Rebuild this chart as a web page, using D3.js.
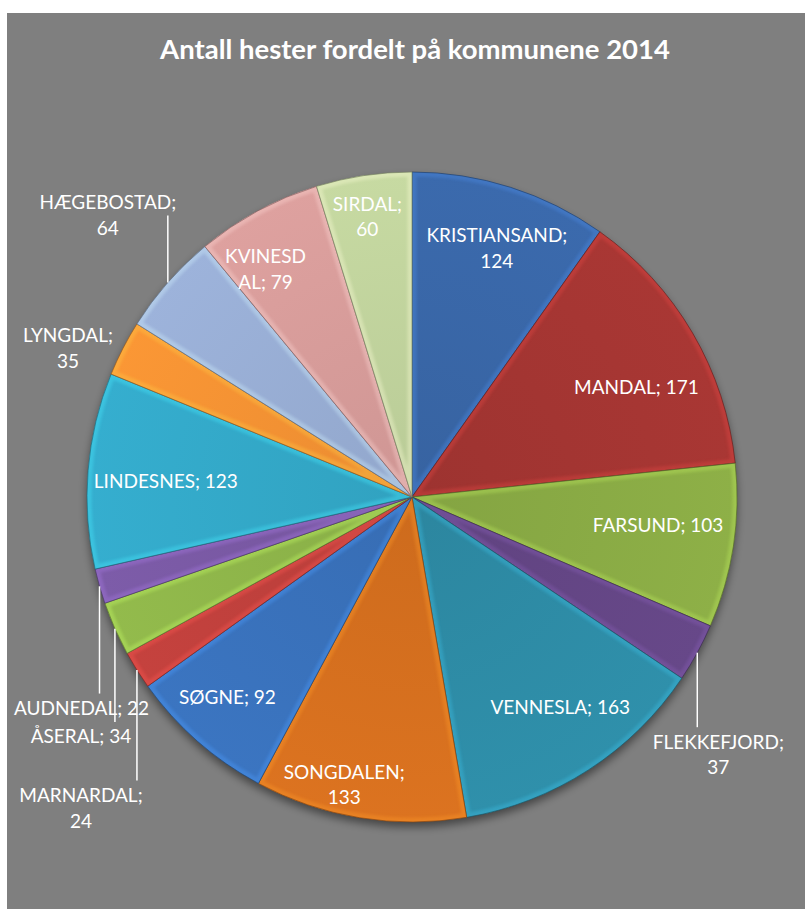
<!DOCTYPE html>
<html><head><meta charset="utf-8">
<script src="https://cdn.jsdelivr.net/npm/d3@7"></script>
<style>html,body{margin:0;padding:0;background:#fff;} svg{display:block}</style>
</head><body>
<svg id="c" width="805" height="909"></svg>
<script>
const title = "Antall hester fordelt på kommunene 2014";
const categories = ["KRISTIANSAND","MANDAL","FARSUND","FLEKKEFJORD","VENNESLA","SONGDALEN","SØGNE","MARNARDAL","ÅSERAL","AUDNEDAL","LINDESNES","LYNGDAL","HÆGEBOSTAD","KVINESDAL","SIRDAL"];
const values = [124,171,103,37,163,133,92,24,34,22,123,35,64,79,60];
const colors = ["#3A68AA","#A63633","#8BAD46","#654787","#2E8DA8","#D8711F","#3A73BE","#C2413D","#90B84B","#7B5AA6","#34ABCB","#F79434","#9AB0D7","#DA9E9C","#C3D69F"];
// label line-break rule: "name" = break after "NAME;", number = break at char index, "" = one line
const wraps = ["name","","","name","","name","","name","","","","name","name",7,"name"];
// label placement (layout only): inside -> nudge from centroid; outside -> offset from slice edge
const placement = [
  {t:"in", dx:6, dy:-1},
  {t:"in", dx:0, dy:22},
  {t:"in", dx:-11, dy:-11},
  {t:"out", dx:21, dy:102},
  {t:"in", dx:7, dy:-8},
  {t:"in", dx:-26, dy:31},
  {t:"in", dx:-13, dy:5},
  {t:"out", dx:-56, dy:138},
  {t:"out", dx:-34, dy:108},
  {t:"out", dx:-18, dy:122},
  {t:"in", dx:13, dy:6},
  {t:"out", dx:-55, dy:0, noLeader:true},
  {t:"out", dx:-60, dy:-67},
  {t:"in", dx:-23, dy:1},
  {t:"in", dx:-6, dy:-23}
];

const W = 805, H = 909;
const cx = 412, cy = 497, R = 325, rLab = 260;
const lineH = 25.5, fontSize = 19;
const svg = d3.select("#c");
const defs = svg.append("defs");

svg.append("rect").attr("x",7).attr("y",13).attr("width",W-7).attr("height",H-13).attr("fill","#7F7F7F");

// title
const tt = svg.append("text").attr("x",415).attr("y",59).attr("text-anchor","middle")
  .attr("font-family","Lato, 'Open Sans', sans-serif").attr("font-weight","bold")
  .attr("font-size",25).attr("fill","#fff").text(title);
const tw = tt.node().getComputedTextLength();
tt.attr("font-size", 25*510/tw);

const data = categories.map((c,i)=>({name:c, value:values[i], color:colors[i], wrap:wraps[i], pl:placement[i]}));
const pie = d3.pie().value(d=>d.value).sort(null);
const arcs = pie(data);
const arc = d3.arc().innerRadius(0).outerRadius(R);
const labArc = d3.arc().innerRadius(rLab).outerRadius(rLab);

const sh = defs.append("filter").attr("id","sh").attr("x","-20%").attr("y","-20%").attr("width","140%").attr("height","140%");
sh.append("feGaussianBlur").attr("stdDeviation",4);
const bl = defs.append("filter").attr("id","bl").attr("x","-10%").attr("y","-10%").attr("width","120%").attr("height","120%");
bl.append("feGaussianBlur").attr("stdDeviation",1.8);

const g = svg.append("g").attr("transform",`translate(${cx},${cy})`);
g.append("circle").attr("cx",0).attr("cy",5).attr("r",R).attr("fill","#000").attr("opacity",0.45).attr("filter","url(#sh)");

arcs.forEach((a,i)=>{
  const d = arc(a);
  defs.append("clipPath").attr("id","cl"+i).append("path").attr("d",d);
  const base = d3.color(a.data.color);
  const gr = defs.append("radialGradient").attr("id","gr"+i).attr("gradientUnits","userSpaceOnUse")
    .attr("cx",0).attr("cy",0).attr("r",R);
  gr.append("stop").attr("offset","0").attr("stop-color",base.darker(0.15));
  gr.append("stop").attr("offset","1").attr("stop-color",base.brighter(0.05));
  g.append("path").attr("d",d).attr("fill",`url(#gr${i})`);
  const hg = g.append("g").attr("clip-path",`url(#cl${i})`);
  hg.append("path").attr("d",d).attr("fill","none").attr("stroke",base.brighter(0.9))
    .attr("stroke-width",9).attr("opacity",0.35).attr("filter","url(#bl)");
  g.append("path").attr("d",d).attr("fill","none").attr("stroke",base.darker(1.4))
    .attr("stroke-width",0.9).attr("opacity",0.75);
});

// labels
const lg = svg.append("g").attr("font-family","Lato, 'Open Sans', sans-serif").attr("font-size",fontSize).attr("fill","#fff");
arcs.forEach((a,i)=>{
  const d = a.data;
  const full = d.name + "; " + d.value;
  let lines;
  if (d.wrap === "name") lines = [d.name + ";", String(d.value)];
  else if (typeof d.wrap === "number") lines = [full.slice(0,d.wrap), full.slice(d.wrap)];
  else lines = [full];
  let x, y;
  const mid = (a.startAngle + a.endAngle)/2;
  if (d.pl.t === "in") {
    const c = labArc.centroid(a);
    x = cx + c[0] + d.pl.dx; y = cy + c[1] + d.pl.dy;
  } else {
    const ex = cx + R*Math.sin(mid), ey = cy - R*Math.cos(mid);
    x = ex + d.pl.dx; y = ey + d.pl.dy;
    if (!d.pl.noLeader) {
      const half = lines.length*lineH/2;
      const yEnd = d.pl.dy > 0 ? y - half - 2 : y;
      svg.append("line").attr("x1",ex).attr("x2",ex).attr("y1",ey).attr("y2",yEnd)
        .attr("stroke","#fff").attr("stroke-width",1.5);
    }
  }
  const t = lg.append("text").attr("text-anchor","middle");
  lines.forEach((l,k)=>{
    t.append("tspan").attr("x",x).attr("y", y + (k - (lines.length-1)/2)*lineH).attr("dy","0.35em").text(l);
  });
});
</script>
</body></html>
